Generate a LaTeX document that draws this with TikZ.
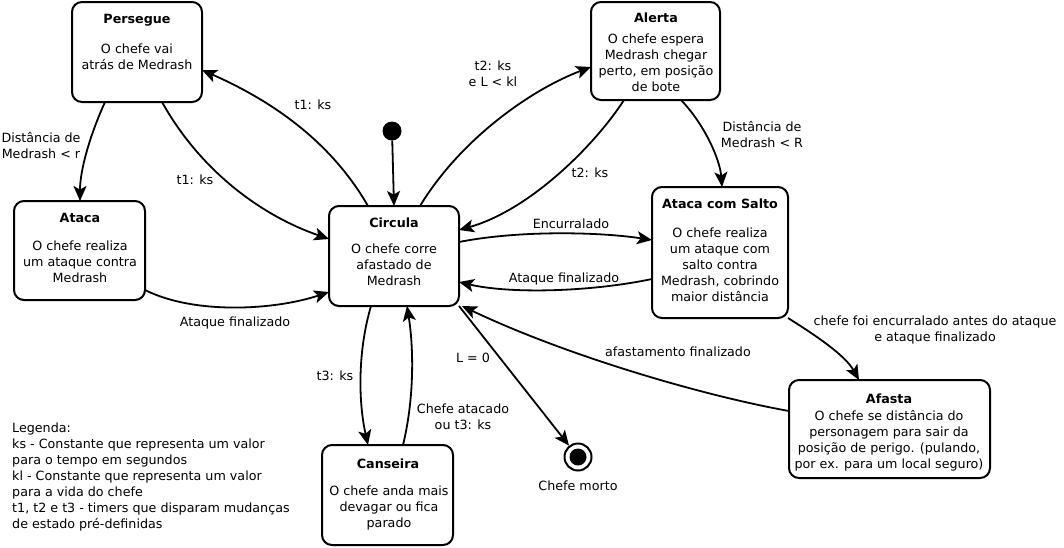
\documentclass[tikz,border=0pt]{standalone}
\usepackage{fontspec}
\setmainfont{DejaVu Sans}
\usetikzlibrary{arrows.meta,calc}
\begin{document}
\begin{tikzpicture}[x=1pt,y=-1pt,
  every node/.style={font=\fontsize{12.7}{16}\selectfont},
  state/.style={draw, line width=2pt, rounded corners=10pt, inner sep=0pt, outer sep=0pt},
  ttl/.style={font=\fontsize{12.7}{16}\selectfont\bfseries, inner sep=0pt, execute at begin node=\strut},
  txt/.style={align=center, inner sep=0pt, execute at begin node=\strut, execute at end node=\strut},
  conn/.style={line width=1.8pt, -{Stealth[length=15pt,width=13pt,inset=3.5pt]}},
]
\useasboundingbox (0,0) rectangle (1064,547);

% states
\node[state, minimum width=130pt, minimum height=100pt] (per) at (137,52) {};
\node[state, minimum width=131pt, minimum height=99pt] (ata) at (79.5,250.5) {};
\node[state, minimum width=130pt, minimum height=100pt] (cir) at (394,256) {};
\node[state, minimum width=129pt, minimum height=98pt] (ale) at (655.5,51) {};
\node[state, minimum width=136pt, minimum height=131pt] (acs) at (720,252.5) {};
\node[state, minimum width=201pt, minimum height=98pt] (afa) at (889.5,429) {};
\node[state, minimum width=131pt, minimum height=100pt] (can) at (387.5,495) {};

% titles
\node[ttl] (per-t) at (137,20) {Persegue};
\node[ttl] (ata-t) at (80,219) {Ataca};
\node[ttl] (cir-t) at (394,224) {Circula};
\node[ttl] (ale-t) at (656,19) {Alerta};
\node[ttl] (acs-t) at (720,205) {Ataca com Salto};
\node[ttl] (afa-t) at (889,400) {Afasta};
\node[ttl] (can-t) at (388,465) {Canseira};

% bodies
\node[txt] (per-b) at (137,59) {O chefe vai\\atrás de Medrash};
\node[txt] (ata-b) at (80,264) {O chefe realiza\\um ataque contra\\Medrash};
\node[txt] (cir-b) at (394,267) {O chefe corre\\afastado de\\Medrash};
\node[txt] (ale-b) at (656,65) {O chefe espera\\Medrash chegar\\perto, em posição\\de bote};
\node[txt] (acs-b) at (720,267) {O chefe realiza\\um ataque com\\salto contra\\Medrash, cobrindo\\maior distância};
\node[txt] (afa-b) at (889,442) {O chefe se distância do\\personagem para sair da\\posição de perigo. (pulando,\\por ex. para um local seguro)};
\node[txt] (can-b) at (389,509) {O chefe anda mais\\devagar ou fica\\parado};

% initial and final
\node[fill, circle, inner sep=0pt, minimum size=19pt] (ini) at (392,131) {};
\node[circle, draw, line width=2pt, minimum size=27pt, inner sep=0pt,
  path picture={\fill (path picture bounding box.center) circle (8.5pt);}] (fin) at (578,457) {};
\node[txt] (fin-l) at (578,487) {Chefe morto};

% connectors
\draw[conn] ($(cir.north west)+(39,0)$) .. controls (330,140) and (270,100) .. ($(per.north east)+(0,68)$);
\draw[conn] ($(per.south west)+(90,0)$) .. controls (200,170) and (260,215) .. ($(cir.north west)+(0,33)$);
\draw[conn] ($(per.south west)+(33,0)$) .. controls (90,135) and (80,170) .. ($(ata.north west)+(66,0)$);
\draw[conn] ($(ata.south east)+(0,-10)$) .. controls (195,315) and (275,310) .. ($(cir.north west)+(0,86)$);
\draw[conn] (ini) -- (cir.north);
\draw[conn] ($(cir.north west)+(91,0)$) .. controls (460,140) and (530,90) .. ($(ale.north west)+(0,65)$);
\draw[conn] ($(ale.south west)+(33,0)$) .. controls (595,145) and (530,210) .. ($(cir.north east)+(0,24)$);
\draw[conn] ($(ale.south west)+(90,0)$) .. controls (705,125) and (720,160) .. ($(acs.north west)+(70,0)$);
\draw[conn] ($(cir.north east)+(0,36)$) .. controls (520,230) and (600,232) .. ($(acs.north west)+(0,53)$);
\draw[conn] ($(acs.north west)+(0,92)$) .. controls (590,292) and (510,294) .. ($(cir.north east)+(0,76)$);
\draw[conn] (acs.south east) .. controls (815,335) and (845,355) .. ($(afa.north west)+(70,0)$);
\draw[conn] ($(afa.north west)+(0,31)$) .. controls (700,395) and (565,355) .. ($(cir.south east)+(3,0)$);
\draw[conn] (cir.south east) -- (fin);
\draw[conn] ($(cir.south west)+(42,0)$) .. controls (358,350) and (358,400) .. ($(can.north west)+(46,0)$);
\draw[conn] ($(can.north west)+(81,0)$) .. controls (414,400) and (414,350) .. ($(cir.south west)+(78,0)$);

% connector labels
\node[txt] (l1) at (313,106) {t1: ks};
\node[txt] (l2) at (195,181) {t1: ks};
\node[txt] (l3) at (41,148) {Distância de\\Medrash < r};
\node[txt] (l4) at (235,323) {Ataque finalizado};
\node[txt] (l5) at (493,76) {t2: ks\\e L < kl};
\node[txt] (l6) at (590,174) {t2: ks};
\node[txt] (l7) at (762,137) {Distância de\\Medrash < R};
\node[txt] (l8) at (571,225) {Encurralado};
\node[txt] (l9) at (564,279) {Ataque finalizado};
\node[txt] (l10) at (935,331) {chefe foi encurralado antes do ataque\\e ataque finalizado};
\node[txt] (l11) at (678,353) {afastamento finalizado};
\node[txt] (l12) at (473,359) {L = 0};
\node[txt] (l13) at (335,377) {t3: ks};
\node[txt] (l14) at (463,419) {Chefe atacado\\ou t3: ks};

% legend
\node[txt, align=left, anchor=west] (leg) at (12,478) {Legenda:\\ks - Constante que representa um valor\\para o tempo em segundos\\kl - Constante que representa um valor\\para a vida do chefe\\t1, t2 e t3 - timers que disparam mudanças\\de estado pré-definidas};
\end{tikzpicture}
\end{document}
